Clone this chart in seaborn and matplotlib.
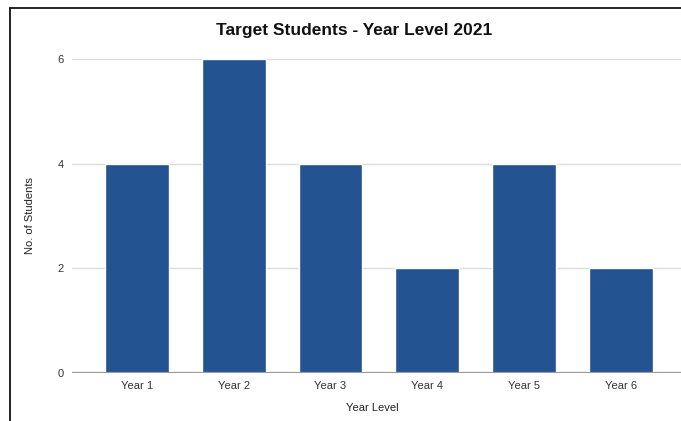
import matplotlib
matplotlib.use("Agg")
import matplotlib.pyplot as plt
import seaborn as sns
import pandas as pd
from matplotlib.lines import Line2D

year_levels = ["Year 1", "Year 2", "Year 3", "Year 4", "Year 5", "Year 6"]
students = [4, 6, 4, 2, 4, 2]
y_ticks = [0, 2, 4, 6]

df = pd.DataFrame({"Year Level": year_levels, "No. of Students": students})

sns.set_theme(style="white")
plt.rcParams["font.family"] = ["Liberation Sans", "DejaVu Sans"]

fig = plt.figure(figsize=(6.81, 4.21), dpi=100)
fig.patch.set_facecolor("white")
ax = fig.add_axes([72 / 681, 48 / 421, 1 - 72 / 681, (373 - 59) / 421])

sns.barplot(data=df, x="Year Level", y="No. of Students", color="#245391",
            saturation=1, width=0.66, ax=ax, zorder=3)

ax.set_xlim(-0.67, 5.62)
ax.set_ylim(0, 6)
ax.set_yticks(y_ticks)
ax.set_yticklabels([str(v) for v in y_ticks])
ax.grid(axis="y", color="#dcdcdc", linewidth=1, zorder=0)
ax.axhline(0, color="#999999", linewidth=1.6, zorder=4)
for s in ax.spines.values():
    s.set_visible(False)
ax.tick_params(axis="both", length=0, labelsize=8, labelcolor="#333333")
ax.tick_params(axis="x", pad=6)
ax.tick_params(axis="y", pad=6)

ax.set_xlabel("Year Level", fontsize=8, color="#222222", labelpad=12)
ax.xaxis.set_label_coords((372 - 72) / 609, -0.095)
ax.set_ylabel("No. of Students", fontsize=8, color="#222222")
ax.yaxis.set_label_coords(-(72 - 35) / 609, 0.5)
ax.set_title("Target Students - Year Level 2021", fontsize=12.5, fontweight="bold",
             color="#111111", x=(354 - 72) / 609, pad=17)

# frame edge along the top and left
fig.add_artist(Line2D([9.5 / 681, 9.5 / 681], [0, 1 - 7.5 / 421], transform=fig.transFigure,
                      color="#111111", linewidth=1.3))
fig.add_artist(Line2D([9.5 / 681, 1], [1 - 7.5 / 421, 1 - 7.5 / 421], transform=fig.transFigure,
                      color="#111111", linewidth=1.3))

fig.savefig("out.png", dpi=100, facecolor="white")
